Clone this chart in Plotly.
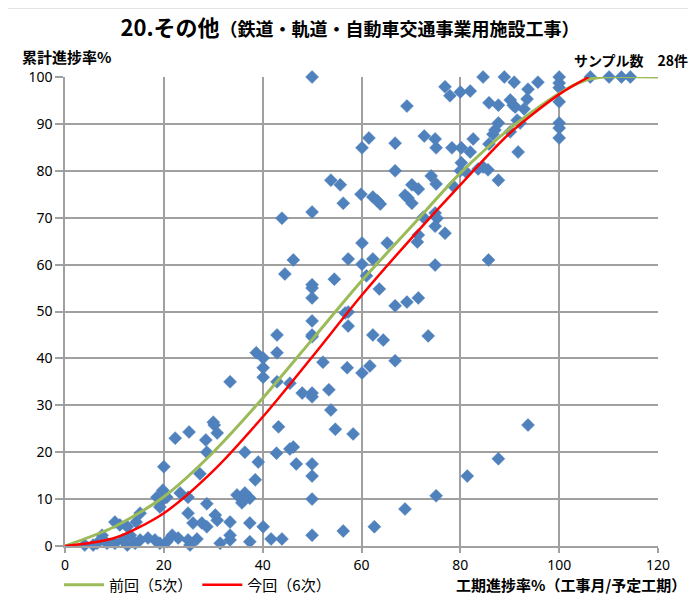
import plotly.graph_objects as go

# --- Data ---
scatter_x = [4, 5.7, 6.5, 7.5, 8.5, 10.1, 10.1, 11.1, 11.7, 12.6, 12.6, 13.2, 14.2, 14.4, 15.2, 15.2,
             16.8, 18.2, 18.6, 19.2, 19.2, 19.2, 19.8, 20.0, 20.6, 20.6, 21.7, 22.3, 22.9, 23.3, 24.9,
             24.9, 24.9, 25.1, 25.3, 25.9, 26.7, 27.3, 27.7, 28.5, 28.7, 28.7, 28.7, 30.0, 30.2, 30.4,
             30.8, 30.8, 31.4, 33.4, 33.4, 33.4, 33.4, 34.8, 35.8, 36.4, 36.4, 37.4, 37.4, 37.4, 38.5,
             38.7, 39.1, 40.1, 40.1, 40.1, 40.1, 41.7, 42.8, 43.2, 42.9, 42.9, 42.9, 43.9,
             44.5, 43.9, 46.2, 45.5, 45.5, 46.2, 46.8, 48.0, 50, 50, 50, 50, 50, 50, 50, 50, 50, 50,
             50, 50, 50, 50, 52.2, 53.4, 53.8, 53.8, 54.5, 54.7, 55.7, 56.3, 56.3, 56.7, 57.3, 57.3,
             57.3, 57.1, 58.3, 59.9, 60.1, 60.1, 60.1, 60.1, 61.0, 61.5, 61.7, 62.3, 62.3, 62.3, 62.6,
             63.2, 63.8, 63.6, 64.4, 65.2, 66.8, 66.8, 66.8, 66.8, 68.8, 68.8, 69.2, 69.2, 69.4, 70.2,
             70.2, 71.3, 71.5, 71.5, 71.5, 72.5, 72.7, 73.5, 74.1, 74.9, 75.1, 74.9, 75.3, 74.9, 74.9,
             75.1, 75.1, 76.9, 76.9, 77.9, 78.3, 78.5, 80.0, 80.2, 80.2, 80.0, 81.2, 81.4, 82.0, 82.0,
             82.6, 83.6, 84.6, 84.6, 85.6, 85.7, 85.8, 85.8, 86.6, 87.0, 87.7, 87.7, 87.7, 87.7, 88.9,
             90.1, 90.7, 91.1, 90.1, 90.9, 91.5, 92.1, 91.7, 92.9, 93.5, 93.7, 93.7, 95.7, 100, 100,
             100, 100, 100, 100, 100, 106.3, 110.1, 112.6, 114.4]
scatter_y = [0.2, 0.2, 0.6, 2.3, 0.6, 0.6, 5.1, 4.5, 1.3, 4.1, 0.2, 2.3, 0.6, 5.1, 1.3, 7.0,
             1.7, 1.3, 10.4, 0.6, 8.3, 9.2, 11.9, 16.9, 10.4, 0.9, 2.3, 23.0, 1.7, 11.3, 10.4,
             7.0, 1.3, 24.3, 0.2, 4.9, 1.5, 15.4, 4.9, 22.6, 20.0, 9.0, 4.1, 26.4, 25.8, 6.6,
             24.1, 5.5, 0.6, 35.0, 5.1, 2.3, 1.3, 10.9, 9.2, 11.3, 20.0, 10.2, 4.9, 0.9, 14.1,
             41.2, 17.9, 40.1, 38.0, 36.0, 4.1, 1.5, 19.8, 25.4, 45.0, 41.2, 35.0, 1.5,
             58.0, 69.9, 61.0, 34.7, 20.7, 21.1, 17.5, 32.6, 100, 71.2, 55.7, 55.0, 52.9, 48.0, 45.0, 44.6, 32.6, 31.8,
             17.5, 14.9, 10.0, 2.3, 39.2, 33.3, 29.0, 78.0, 56.9, 24.9, 77.0, 73.1, 3.2, 49.7, 49.9, 46.9,
             61.2, 38.0, 23.9, 75.0, 84.9, 64.6, 60.1, 36.9, 57.6, 87.0, 38.4, 74.4, 61.2, 45.0, 4.1,
             73.6, 72.9, 54.8, 43.9, 64.6, 85.9, 80.0, 51.2, 39.5, 74.8, 7.9, 93.8, 52.0, 74.2, 73.1,
             77.0, 64.8, 66.3, 76.1, 52.9, 70.1, 87.4, 44.8, 78.9, 86.8, 84.9, 71.0, 69.9, 68.2, 59.9,
             77.2, 10.7, 97.9, 66.7, 96.0, 84.9, 76.8, 96.8, 84.9, 81.7, 80.0, 79.7, 14.9, 97.0, 84.0,
             86.8, 80.4, 80.8, 100, 80.2, 61.0, 94.5, 85.7, 87.8, 88.7, 90.2, 94.0, 78.0, 18.6, 100,
             95.1, 94.0, 93.6, 88.3, 98.9, 90.8, 90.2, 84.0, 93.2, 95.3, 97.4, 25.8, 98.9, 100, 98.7,
             97.7, 94.7, 90.2, 89.1, 87.0, 100, 100, 100, 100]

prev_x = [0, 10, 20, 30, 40, 50, 60, 70, 80, 90, 100, 105, 109, 120]
prev_y = [0, 4.1, 10.5, 20.0, 31.5, 44.0, 56.5, 68.0, 79.5, 89.0, 96.5, 99.2, 100, 100]

curr_x = [0, 10, 20, 30, 40, 50, 60, 70, 80, 90, 100, 106]
curr_y = [0, 1.7, 7.0, 16.0, 27.5, 40.3, 53.4, 65.5, 77.0, 88.0, 96.3, 100]

x_ticks = [0, 20, 40, 60, 80, 100, 120]
y_ticks = [0, 10, 20, 30, 40, 50, 60, 70, 80, 90, 100]

JP = "Noto Sans CJK JP"

fig = go.Figure()
fig.add_trace(go.Scatter(
    x=scatter_x, y=scatter_y, mode="markers", showlegend=False,
    marker=dict(symbol="diamond", size=10, color="#4F81BD", line=dict(width=0.5, color="#4F81BD")),
    cliponaxis=False,
))
fig.add_trace(go.Scatter(
    x=prev_x, y=prev_y, mode="lines", name="前回（5次）",
    line=dict(color="#9BBB59", width=3, shape="spline", smoothing=0.8),
))
fig.add_trace(go.Scatter(
    x=curr_x, y=curr_y, mode="lines", name="今回（6次）",
    line=dict(color="#FF0000", width=2.5, shape="spline", smoothing=0.8),
))

grid = "#a0a0a0"
W, H = 688, 592
fig.update_layout(
    width=W, height=H,
    margin=dict(l=57, r=38, t=69, b=54),
    paper_bgcolor="white", plot_bgcolor="white",
    font=dict(family=JP, color="#000000"),
    xaxis=dict(range=[0, 120], tickvals=x_ticks, showgrid=True, gridcolor=grid, gridwidth=1.5,
               zeroline=False, showline=True, linecolor=grid, linewidth=1.5,
               ticks="outside", ticklen=5, tickcolor=grid, tickwidth=1.5,
               tickfont=dict(size=14, family="Noto Sans"), fixedrange=True, automargin=False),
    yaxis=dict(range=[0, 100], tickvals=y_ticks, showgrid=True, gridcolor=grid, gridwidth=1.5,
               zeroline=False, showline=True, linecolor=grid, linewidth=1.5,
               ticks="outside", ticklen=8, tickcolor=grid, tickwidth=1.5,
               tickfont=dict(size=14, family="Noto Sans"), fixedrange=True, automargin=False),
    legend=dict(orientation="h", xref="container", yref="container",
                x=51 / W, y=1 - 577 / H, xanchor="left", yanchor="middle",
                font=dict(size=15, family=JP), bgcolor="rgba(0,0,0,0)", itemwidth=40),
    title=dict(text="<b>20.その他<span style='font-size:18px'>（鉄道・軌道・自動車交通事業用施設工事）</span></b>",
               x=342 / W, xanchor="center", y=1 - 20 / H, yanchor="middle",
               font=dict(size=22, family=JP)),
)

fig.add_annotation(text="<b>累計進捗率%</b>", xref="paper", yref="paper",
                   x=-0.076, y=1.043, xanchor="left", yanchor="middle",
                   showarrow=False, font=dict(size=15, family=JP))
fig.add_annotation(text="<b>サンプル数　28件</b>", xref="paper", yref="paper",
                   x=1.054, y=1.036, xanchor="right", yanchor="middle",
                   showarrow=False, font=dict(size=14, family=JP))
fig.add_annotation(text="<b>工期進捗率%（工事月/予定工期）</b>", xref="paper", yref="paper",
                   x=1.05, y=-0.083, xanchor="right", yanchor="middle",
                   showarrow=False, font=dict(size=15, family=JP))

# outer chart frame
fig.add_shape(type="rect", xref="paper", yref="paper",
              x0=(2 - 65) / 593, x1=(693 - 65) / 593,
              y0=(546 - 640) / 469, y1=(546 - 8) / 469,
              line=dict(color="#c8c8c8", width=1), fillcolor="rgba(0,0,0,0)", layer="below")

fig.write_html("out.html")
